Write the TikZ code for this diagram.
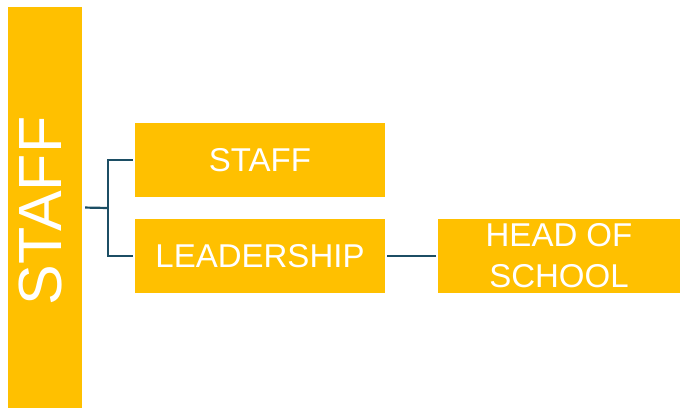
\documentclass[tikz,border=0pt]{standalone}
\usepackage{fontspec}
\setmainfont{Liberation Sans}
\begin{document}
\begin{tikzpicture}[x=1pt,y=1pt,
  box/.style={fill=boxyellow, draw=none, text=white, inner sep=0pt, align=center,
    font=\fontsize{33}{41}\selectfont},
  conn/.style={draw=connblue, line width=2.2pt}]
\definecolor{boxyellow}{RGB}{255,192,0}
\definecolor{connblue}{RGB}{28,78,100}
\useasboundingbox (0,0) rectangle (681,408);
\node[box, minimum width=74pt, minimum height=401pt] (bar) at (45,200.5) {};
\node[text=white, font=\fontsize{61}{61}\selectfont, rotate=90] (bartext) at (41,197) {STAFF};
\node[box, minimum width=250pt, minimum height=74pt] (staff) at (260,248) {STAFF};
\node[box, minimum width=250pt, minimum height=74pt] (lead) at (260,152) {LEADERSHIP};
\node[box, minimum width=242pt, minimum height=74pt] (head) at (559,152) {HEAD OF\\SCHOOL};
\coordinate (j) at (108,200);
\draw[conn, shorten <=3pt] (bar.east) -- (j);
\draw[conn, shorten >=2pt] (j) |- (staff.west);
\draw[conn, shorten >=2pt] (j) |- (lead.west);
\draw[conn, shorten <=2pt, shorten >=2pt] (lead.east) -- (head.west);
\end{tikzpicture}
\end{document}
